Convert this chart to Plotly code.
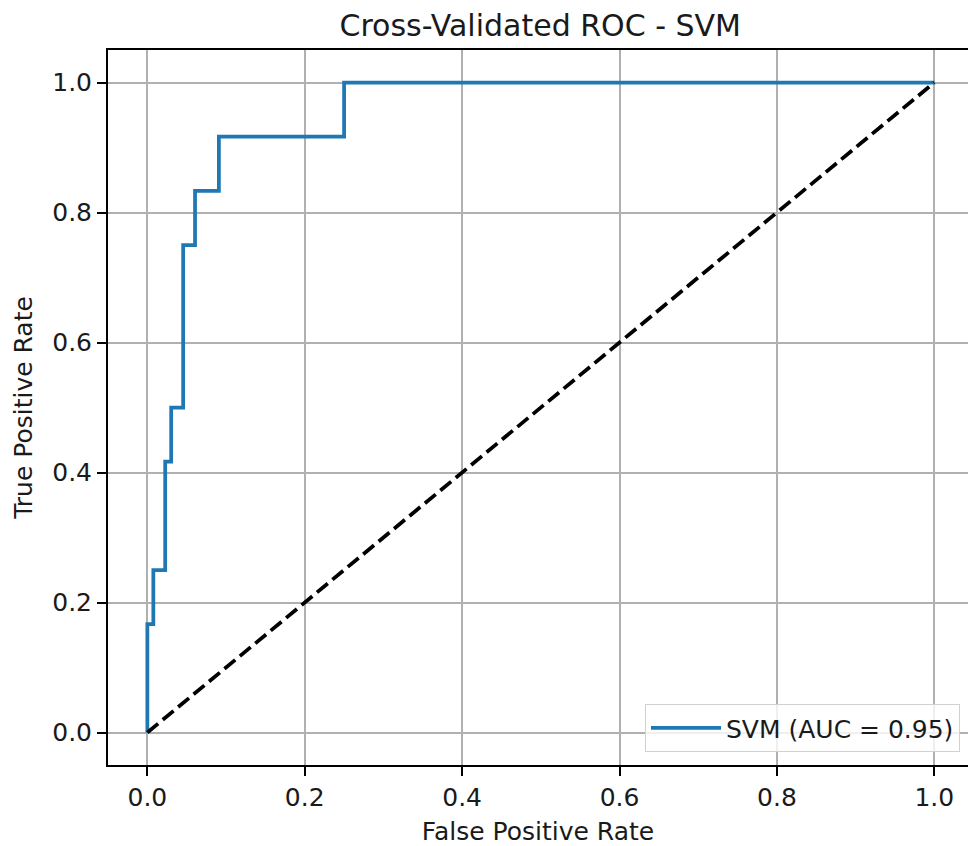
import plotly.graph_objects as go

# ROC corner points
fpr = [0.0, 0.0, 0.0076, 0.0227, 0.0303, 0.0455, 0.0606, 0.0909, 0.25, 1.0]
tpr = [0.0, 0.1667, 0.25, 0.4167, 0.5, 0.75, 0.8333, 0.9167, 1.0, 1.0]
auc_label = "SVM (AUC = 0.95)"
diag_x = [0.0, 1.0]
diag_y = [0.0, 1.0]
tick_vals = [0.0, 0.2, 0.4, 0.6, 0.8, 1.0]
tick_text = ["0.0", "0.2", "0.4", "0.6", "0.8", "1.0"]

FONT = "DejaVu Sans"

fig = go.Figure()
fig.add_trace(go.Scatter(
    x=fpr, y=tpr, mode="lines", line_shape="hv",
    line=dict(color="#1f77b4", width=3.75),
    name=auc_label, showlegend=True,
))
fig.add_trace(go.Scatter(
    x=diag_x, y=diag_y, mode="lines",
    line=dict(color="black", width=3.75, dash="14px,6px"),
    showlegend=False,
))

axis_common = dict(
    showgrid=True, gridcolor="#b0b0b0", gridwidth=2,
    zeroline=False,
    showline=True, linecolor="black", linewidth=2,
    ticks="outside", ticklen=9, tickwidth=2, tickcolor="black",
    tickvals=tick_vals, ticktext=tick_text,
    tickfont=dict(family=FONT, size=25, color="#1a1a1a"),
)

fig.update_layout(
    width=968, height=846,
    margin=dict(l=108, r=0, t=50, b=81),
    paper_bgcolor="white", plot_bgcolor="white",
    font=dict(family=FONT, color="#1a1a1a"),
    title=dict(text="Cross-Validated ROC - SVM", x=0.5026, xref="paper", xanchor="center",
               y=1 - 25 / 846, yref="container", yanchor="middle",
               font=dict(family=FONT, size=30, color="#1a1a1a")),
    xaxis=dict(range=[-0.05, 1.0428], mirror=True,
               title=dict(text="False Positive Rate", standoff=14,
                          font=dict(family=FONT, size=25, color="#1a1a1a")),
               **axis_common),
    yaxis=dict(range=[-0.05, 1.05], mirror=False,
               title=dict(text="True Positive Rate", standoff=12,
                          font=dict(family=FONT, size=25, color="#1a1a1a")),
               **axis_common),
    legend=dict(x=0.9907, y=0.018, xanchor="right", yanchor="bottom",
                bgcolor="rgba(255,255,255,0.8)", bordercolor="#d0d0d0", borderwidth=1,
                itemwidth=70,
                font=dict(family=FONT, size=25, color="#1a1a1a")),
)

fig.write_html("out.html", config={"displayModeBar": False},
               post_script="document.body.style.margin='0';")
